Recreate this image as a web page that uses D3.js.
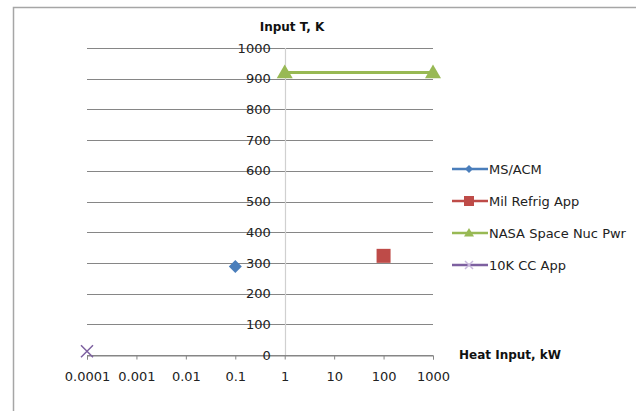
<!DOCTYPE html>
<html><head><meta charset="utf-8">
<script src="https://cdn.jsdelivr.net/npm/d3@7"></script>
<style>body{margin:0;background:#fff}svg{display:block}text{font-family:"DejaVu Sans","Liberation Sans",sans-serif}</style>
</head><body>
<script>
const xTicks = [0.0001, 0.001, 0.01, 0.1, 1, 10, 100, 1000];
const xTickLabels = ["0.0001", "0.001", "0.01", "0.1", "1", "10", "100", "1000"];
const yTicks = [0, 100, 200, 300, 400, 500, 600, 700, 800, 900, 1000];
const yTickLabels = ["0", "100", "200", "300", "400", "500", "600", "700", "800", "900", "1000"];
const seriesNames = ["MS/ACM", "Mil Refrig App", "NASA Space Nuc Pwr", "10K CC App"];
const seriesColors = ["#4a7ebb", "#be4b48", "#98b954", "#7d60a0"];
const msAcm = [{x: 0.1, y: 288}];
const milRefrig = [{x: 100, y: 323}];
const nasaNuc = [{x: 1, y: 920}, {x: 1000, y: 920}];
const cc10k = [{x: 0.0001, y: 12}];
const series = [msAcm, milRefrig, nasaNuc, cc10k];

const W = 636, H = 411;
const svg = d3.select("body").append("svg").attr("width", W).attr("height", H);
svg.append("rect").attr("x", 13.5).attr("y", 7.5).attr("width", 700).attr("height", 500)
  .attr("fill", "none").attr("stroke", "#a6a6a6").attr("stroke-width", 1.5);

const x = d3.scaleLog().domain([0.0001, 1000]).range([87, 433]);
const y = d3.scaleLinear().domain([0, 1000]).range([355, 48]);

// gridlines
svg.append("g").selectAll("line").data(yTicks).join("line")
  .attr("x1", 87).attr("x2", 433).attr("y1", d => Math.round(y(d)) + 0.5).attr("y2", d => Math.round(y(d)) + 0.5)
  .attr("stroke", "#868686").attr("stroke-width", 1);

// vertical axis at x=1
svg.append("line").attr("x1", Math.round(x(1)) + 0.5).attr("x2", Math.round(x(1)) + 0.5)
  .attr("y1", y(1000)).attr("y2", y(0)).attr("stroke", "#d0d0d0").attr("stroke-width", 1.2);

// x axis
const xAxis = d3.axisBottom(x).tickValues(xTicks).tickFormat((d, i) => xTickLabels[i]).tickSize(4).tickPadding(12);
const gx = svg.append("g").attr("transform", `translate(0,${Math.round(y(0)) + 0.5})`).call(xAxis);
gx.select(".domain").attr("stroke", "#868686");
gx.selectAll(".tick line").attr("stroke", "#868686");
gx.selectAll(".tick text").attr("font-size", 13).attr("fill", "#222").attr("font-family", "DejaVu Sans");

// y labels (axis at x=1)
const yAxis = d3.axisLeft(y).tickValues(yTicks).tickFormat((d, i) => yTickLabels[i]).tickSize(0).tickPadding(14);
const gy = svg.append("g").attr("transform", `translate(${x(1)},0)`).call(yAxis);
gy.select(".domain").remove();
gy.selectAll(".tick text").attr("font-size", 13).attr("fill", "#222").attr("font-family", "DejaVu Sans");

// titles
svg.append("text").attr("x", 292).attr("y", 31).attr("text-anchor", "middle")
  .attr("font-size", 12).attr("font-weight", "bold").attr("fill", "#111").text("Input T, K");
svg.append("text").attr("x", 459).attr("y", 359).attr("text-anchor", "start")
  .attr("font-size", 12).attr("font-weight", "bold").attr("fill", "#111").text("Heat Input, kW");

// markers
function marker(g, i, cx, cy, legend) {
  const c = seriesColors[i];
  if (i === 0) {
    const s = legend ? 4 : 6.5;
    g.append("path").attr("d", `M${cx},${cy - s}L${cx + s},${cy}L${cx},${cy + s}L${cx - s},${cy}Z`).attr("fill", c);
  } else if (i === 1) {
    const s = legend ? 5 : 7;
    g.append("rect").attr("x", cx - s).attr("y", cy - s).attr("width", 2 * s).attr("height", 2 * s).attr("fill", c);
  } else if (i === 2) {
    const s = legend ? 5 : 8;
    g.append("path").attr("d", `M${cx},${cy - s}L${cx + s},${cy + s * 0.7}L${cx - s},${cy + s * 0.7}Z`).attr("fill", c);
  } else {
    const s = legend ? 4 : 6;
    g.append("path").attr("d", `M${cx - s},${cy - s}L${cx + s},${cy + s}M${cx + s},${cy - s}L${cx - s},${cy + s}`)
      .attr("stroke", legend ? "#c8b8dc" : c).attr("stroke-width", 1.5).attr("fill", "none");
  }
}

const line = d3.line().x(d => x(d.x)).y(d => y(d.y));
series.forEach((data, i) => {
  const g = svg.append("g");
  if (data.length > 1) {
    g.append("path").attr("d", line(data)).attr("stroke", seriesColors[i]).attr("stroke-width", 3).attr("fill", "none");
  }
  data.forEach(d => marker(g, i, x(d.x), y(d.y), false));
});

// legend
const legendY = [169, 201, 233, 265];
seriesNames.forEach((name, i) => {
  const g = svg.append("g");
  g.append("line").attr("x1", 452).attr("x2", 488).attr("y1", legendY[i]).attr("y2", legendY[i])
    .attr("stroke", seriesColors[i]).attr("stroke-width", 2.5);
  marker(g, i, 469, legendY[i], true);
  g.append("text").attr("x", 489).attr("y", legendY[i]).attr("dy", "0.35em").attr("font-size", 13)
    .attr("fill", "#222").text(name);
});
</script>
</body></html>
